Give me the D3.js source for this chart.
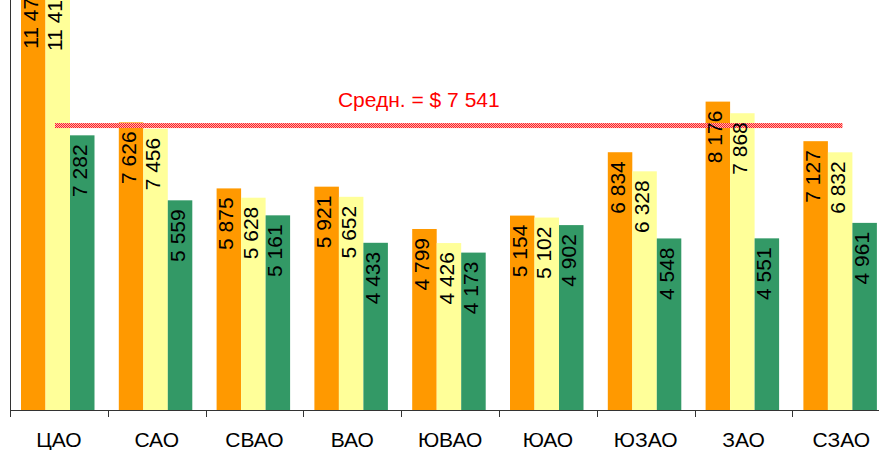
<!DOCTYPE html>
<html>
<head>
<meta charset="utf-8">
<script src="https://cdn.jsdelivr.net/npm/d3@7"></script>
<style>
  html, body { margin: 0; padding: 0; background: #fff; }
  svg { display: block; font-family: "Liberation Sans", Arial, sans-serif; }
</style>
</head>
<body>
<div id="chart"></div>
<script>
// districts (x axis)
const districts = ["ЦАО", "САО", "СВАО", "ВАО", "ЮВАО", "ЮАО", "ЮЗАО", "ЗАО", "СЗАО"];
// three series, one value per district
const seriesNames = ["s1", "s2", "s3"];
const series1 = [11475, 7626, 5875, 5921, 4799, 5154, 6834, 8176, 7127];
const series2 = [11418, 7456, 5628, 5652, 4426, 5102, 6328, 7868, 6832];
const series3 = [7282, 5559, 5161, 4433, 4173, 4902, 4548, 4551, 4961];
const seriesColors = ["#FF9900", "#FFFF99", "#339966"];
// average line
const avgValue = 7541;
const avgLabel = "Средн. = $ 7 541";
const yMax = 10870;

const width = 879, height = 450;
const baseY = 410, axisX = 10;

const locale = d3.formatLocale({ decimal: ",", thousands: " ", grouping: [3], currency: ["$", ""] });
const fmt = locale.format(",d");

const svg = d3.select("#chart").append("svg")
  .attr("width", width)
  .attr("height", height);

const defs = svg.append("defs");
const pat = defs.append("pattern")
  .attr("id", "hatch")
  .attr("patternUnits", "userSpaceOnUse")
  .attr("width", 2).attr("height", 2);
pat.append("rect").attr("width", 2).attr("height", 2).attr("fill", "#ffb0b0");
pat.append("rect").attr("x", 0).attr("y", 0).attr("width", 1).attr("height", 1).attr("fill", "#ff2020");
pat.append("rect").attr("x", 1).attr("y", 1).attr("width", 1).attr("height", 1).attr("fill", "#ff2020");

// category slots
const x = d3.scaleBand()
  .domain(districts)
  .range([axisX, axisX + 97.8 * districts.length])
  .padding(0);

// bars inside a slot
const xs = d3.scaleBand()
  .domain(seriesNames)
  .range([11, 84.5])
  .padding(0);

const y = d3.scaleLinear()
  .domain([0, yMax])
  .range([baseY, 0]);

const rows = districts.map((d, i) => ({
  district: d,
  values: [series1[i], series2[i], series3[i]].map((v, j) => ({ key: seriesNames[j], value: v, color: seriesColors[j] }))
}));

const groups = svg.append("g").selectAll("g")
  .data(rows)
  .join("g")
  .attr("transform", d => `translate(${x(d.district)},0)`);

groups.selectAll("rect")
  .data(d => d.values)
  .join("rect")
  .attr("x", d => xs(d.key))
  .attr("y", d => y(d.value))
  .attr("width", xs.bandwidth())
  .attr("height", d => baseY - y(d.value))
  .attr("fill", d => d.color);

// average line
const avgX0 = x(districts[0]) + x.bandwidth() * 0.46;
const avgX1 = x(districts[districts.length - 1]) + x.bandwidth() * 0.512;
svg.append("rect")
  .attr("x", avgX0)
  .attr("y", y(avgValue) - 2.5)
  .attr("width", avgX1 - avgX0)
  .attr("height", 5)
  .attr("fill", "url(#hatch)");

svg.append("text")
  .attr("x", x("ЮВАО") + x.bandwidth() * 0.18)
  .attr("y", y(avgValue) - 19)
  .attr("text-anchor", "middle")
  .attr("fill", "#ff0000")
  .style("font-size", "21px")
  .text(avgLabel);

// value labels, rotated, inside end of bars (drawn above the average line)
const labelLayer = svg.append("g").selectAll("g")
  .data(rows)
  .join("g")
  .attr("transform", d => `translate(${x(d.district)},0)`);

labelLayer.selectAll("text")
  .data(d => d.values)
  .join("text")
  .attr("transform", d => `translate(${xs(d.key) + xs.bandwidth() / 2},${y(d.value) + 9}) rotate(-90)`)
  .attr("dy", "0.22em")
  .attr("text-anchor", "end")
  .attr("fill", "#000")
  .style("font-size", "21px")
  .text(d => fmt(d.value));

// axes
const axisColor = "#333";
svg.append("line")
  .attr("x1", axisX + 0.5).attr("x2", axisX + 0.5)
  .attr("y1", 0).attr("y2", baseY)
  .attr("stroke", axisColor);

svg.append("line")
  .attr("x1", axisX).attr("x2", width)
  .attr("y1", baseY + 0.5).attr("y2", baseY + 0.5)
  .attr("stroke", axisColor);

svg.append("g").selectAll("line")
  .data(districts.concat(["end"]))
  .join("line")
  .attr("x1", (d, i) => Math.round(axisX + i * x.step()) + 0.5)
  .attr("x2", (d, i) => Math.round(axisX + i * x.step()) + 0.5)
  .attr("y1", baseY)
  .attr("y2", baseY + 7)
  .attr("stroke", axisColor);

svg.append("g").selectAll("text")
  .data(districts)
  .join("text")
  .attr("x", d => x(d) + x.bandwidth() / 2)
  .attr("y", 447)
  .attr("text-anchor", "middle")
  .attr("fill", "#000")
  .style("font-size", "21px")
  .text(d => d);
</script>
</body>
</html>
